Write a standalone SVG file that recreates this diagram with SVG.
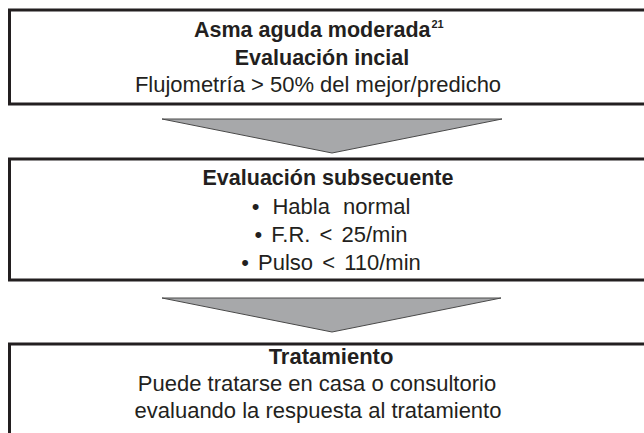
<svg xmlns="http://www.w3.org/2000/svg" width="644" height="433" viewBox="0 0 644 433">
<style>
.box{fill:#fff;stroke:#231f20;stroke-width:3}
.arrow{fill:#a7a8aa;stroke:#4a4a4a;stroke-width:1;stroke-linejoin:miter}
text{font-family:"Liberation Sans",Arial,sans-serif;fill:#231f20;text-anchor:middle}
.b{font-weight:bold;font-size:21.5px}
.r{font-size:22px}
.ws{word-spacing:3px}
.sup{font-weight:bold;font-size:11px;text-anchor:start}
</style>
<rect width="644" height="433" fill="#fff"/>
<g id="connectors">
<polygon class="arrow" points="162,119 502,119 332,153"/>
<polygon class="arrow" points="162,298 501,298 332,332"/>
</g>
<g id="node1">
<rect class="box" x="9.5" y="10" width="650" height="94"/>
<text class="b" x="194" y="37" style="text-anchor:start">Asma aguda moderada</text>
<text class="sup" x="431.5" y="28">21</text>
<text class="b" x="322" y="64.5">Evaluación incial</text>
<text class="r" x="318" y="92">Flujometría &gt; 50% del mejor/predicho</text>
</g>
<g id="node2">
<rect class="box" x="9.5" y="159" width="650" height="121"/>
<text class="b" x="328" y="185">Evaluación subsecuente</text>
<text class="r" x="331" y="214" style="word-spacing:7px">• Habla normal</text>
<text class="r ws" x="331" y="242">• F.R. &lt; 25/min</text>
<text class="r ws" x="331" y="270">• Pulso &lt; 110/min</text>
</g>
<g id="node3">
<rect class="box" x="9.5" y="344" width="650" height="120"/>
<text class="b" x="331" y="364" style="font-size:22px">Tratamiento</text>
<text class="r" x="317" y="391">Puede tratarse en casa o consultorio</text>
<text class="r" x="318" y="418">evaluando la respuesta al tratamiento</text>
</g>
</svg>
